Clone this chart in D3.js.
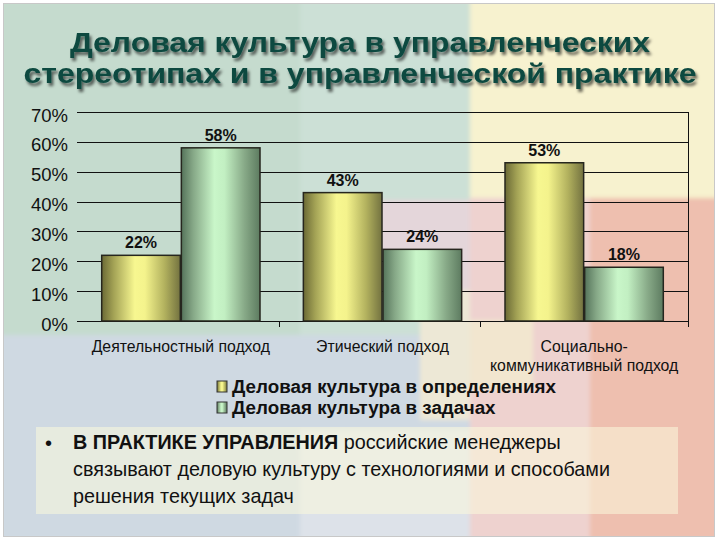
<!DOCTYPE html>
<html>
<head>
<meta charset="utf-8">
<script src="https://cdn.jsdelivr.net/npm/d3@7"></script>
<style>
  html, body { margin: 0; padding: 0; background: #fff; }
  svg { display: block; font-family: "Liberation Sans", Arial, sans-serif; }
</style>
</head>
<body>
<div id="chart"></div>
<script>
// data
const categories = ['Деятельностный подход', 'Этический подход', 'Социально-\nкоммуникативный подход'];
const seriesNames = ['Деловая культура в определениях', 'Деловая культура в задачах'];
const inDefinitions = [0.22, 0.43, 0.53];
const inTasks = [0.58, 0.24, 0.18];
const yTicks = [0, 0.1, 0.2, 0.3, 0.4, 0.5, 0.6, 0.7];
const titleLines = ['Деловая культура в управленческих', 'стереотипах и в управленческой практике'];
const bulletBold = 'В ПРАКТИКЕ УПРАВЛЕНИЯ';
const bulletLines = [' российские менеджеры', 'связывают деловую культуру с технологиями и способами', 'решения текущих задач'];

const W = 720, H = 540;
const margin = { top: 112, right: 32, bottom: 219, left: 77 };
const width = W - margin.left - margin.right;
const height = H - margin.top - margin.bottom;

const svg = d3.select('#chart').append('svg')
    .attr('width', W)
    .attr('height', H);

const defs = svg.append('defs');

// cylinder-like shading for the bars
function barGradient(id, stops) {
    const g = defs.append('linearGradient').attr('id', id)
        .attr('x1', 0).attr('x2', 1).attr('y1', 0).attr('y2', 0);
    stops.forEach(s => g.append('stop').attr('offset', s[0]).attr('stop-color', s[1]));
}
barGradient('gYellow', [[0, '#6a6935'], [0.15, '#a3a255'], [0.42, '#f7f790'], [0.55, '#f4f38c'], [0.8, '#b2b15e'], [1, '#737240']]);
barGradient('gGreen', [[0, '#55735a'], [0.15, '#86a887'], [0.42, '#c9f6c9'], [0.55, '#c2efc2'], [0.8, '#88aa88'], [1, '#5d7b60']]);

const blur = defs.append('filter').attr('id', 'soft')
    .attr('x', -0.1).attr('y', -0.1).attr('width', 1.2).attr('height', 1.2);
blur.append('feGaussianBlur').attr('stdDeviation', 2);

const shadow = defs.append('filter').attr('id', 'shadow')
    .attr('x', -0.05).attr('y', -0.2).attr('width', 1.1).attr('height', 1.5);
shadow.append('feDropShadow').attr('dx', 2).attr('dy', 3)
    .attr('stdDeviation', 1.6).attr('flood-color', '#000').attr('flood-opacity', 0.6);

const clip = defs.append('clipPath').attr('id', 'slide');
clip.append('rect').attr('x', 3).attr('y', 3).attr('width', 712).attr('height', 534);

// slide background patchwork
const bg = svg.append('g').attr('clip-path', 'url(#slide)');
const bgInner = bg.append('g').attr('filter', 'url(#soft)');
const patches = [
    [0, 0, 720, 540, '#cfd9e2'],
    [0, 0, 470, 335, '#c5dbce'],
    [300, 0, 170, 335, '#cce0d6'],
    [355, 200, 115, 90, '#e4d6da'],
    [420, 290, 50, 130, '#ede8d6'],
    [300, 430, 170, 110, '#dde2e9'],
    [470, 0, 250, 198, '#f7f2cf'],
    [470, 198, 250, 342, '#eed2cf'],
    [470, 320, 63, 70, '#f2e6cf'],
    [590, 198, 130, 342, '#eebfaf']
];
bgInner.selectAll('rect').data(patches).join('rect')
    .attr('x', d => d[0]).attr('y', d => d[1])
    .attr('width', d => d[2]).attr('height', d => d[3])
    .attr('fill', d => d[4]);

svg.append('rect')
    .attr('x', 3.5).attr('y', 3.5).attr('width', 711).attr('height', 533)
    .attr('fill', 'none').attr('stroke', '#c8c8c8');

// title (glyphs stretched to the slide's wider face)
const titleWidths = [580, 673];
svg.append('g').attr('filter', 'url(#shadow)')
    .selectAll('text').data(titleLines).join('text')
    .attr('x', (d, i) => W / 2 - titleWidths[i] / 2)
    .attr('y', (d, i) => 52 + i * 30.5)
    .attr('textLength', (d, i) => titleWidths[i])
    .attr('lengthAdjust', 'spacingAndGlyphs')
    .style('font-size', '27px')
    .style('font-weight', 'bold')
    .attr('fill', '#0c4a40')
    .text(d => d);

// scales
const x0 = d3.scaleBand()
    .domain(categories)
    .range([0, width])
    .paddingInner(0.21)
    .paddingOuter(0.12);

const x1 = d3.scaleBand()
    .domain(seriesNames)
    .range([0, x0.bandwidth()]);

const y = d3.scaleLinear()
    .domain([0, 0.7])
    .range([height, 0]);

const chart = svg.append('g')
    .attr('transform', `translate(${margin.left},${margin.top})`);

// gridlines
chart.append('g')
    .selectAll('line').data(yTicks).join('line')
    .attr('x1', 0).attr('x2', width)
    .attr('y1', d => Math.round(y(d)) + 0.5).attr('y2', d => Math.round(y(d)) + 0.5)
    .attr('stroke', '#111').attr('stroke-width', 1);

// right frame edge
chart.append('line')
    .attr('x1', width + 0.5).attr('x2', width + 0.5)
    .attr('y1', y(0.7)).attr('y2', height + 6)
    .attr('stroke', '#111');

// y labels
chart.append('g')
    .selectAll('text').data(yTicks).join('text')
    .attr('x', -9)
    .attr('y', d => y(d) + 9.5)
    .attr('text-anchor', 'end')
    .style('font-size', '18.5px')
    .attr('fill', '#111')
    .text(d => d3.format('.0%')(d));

// category ticks between groups
const step = x0.step();
chart.append('g')
    .selectAll('line').data(d3.range(1, categories.length)).join('line')
    .attr('x1', d => Math.round(d * step) + 0.5).attr('x2', d => Math.round(d * step) + 0.5)
    .attr('y1', height).attr('y2', height + 6)
    .attr('stroke', '#111');

// bars
const rows = categories.map((c, i) => ({ cat: c, values: [inDefinitions[i], inTasks[i]] }));
const fills = ['url(#gYellow)', 'url(#gGreen)'];

const groups = chart.selectAll('.group')
    .data(rows)
    .join('g')
    .attr('class', 'group')
    .attr('transform', d => `translate(${x0(d.cat)},0)`);

groups.selectAll('rect')
    .data(d => d.values.map((v, i) => ({ series: seriesNames[i], v: v, i: i })))
    .join('rect')
    .attr('x', d => x1(d.series) + 0.5)
    .attr('y', d => y(d.v))
    .attr('width', x1.bandwidth() - 1)
    .attr('height', d => height - y(d.v))
    .attr('fill', d => fills[d.i])
    .attr('stroke', '#26261e')
    .attr('stroke-width', 1.5);

groups.selectAll('.val')
    .data(d => d.values.map((v, i) => ({ series: seriesNames[i], v: v })))
    .join('text')
    .attr('class', 'val')
    .attr('x', d => x1(d.series) + x1.bandwidth() / 2)
    .attr('y', d => y(d.v) - 7)
    .attr('text-anchor', 'middle')
    .style('font-size', '16px')
    .style('font-weight', 'bold')
    .attr('fill', '#111')
    .text(d => d3.format('.0%')(d.v));

// category labels
chart.append('g')
    .selectAll('text').data(categories).join('text')
    .attr('x', d => x0(d) + x0.bandwidth() / 2)
    .attr('y', height + 31)
    .attr('text-anchor', 'middle')
    .style('font-size', '15.8px')
    .attr('fill', '#111')
    .selectAll('tspan').data(d => d.split('\n')).join('tspan')
    .attr('x', function () { return d3.select(this.parentNode).attr('x'); })
    .attr('dy', (d, i) => i === 0 ? 0 : 19)
    .text(d => d);

// legend
const legend = svg.append('g').attr('transform', 'translate(217,381)');
const legendItems = legend.selectAll('g').data(seriesNames).join('g')
    .attr('transform', (d, i) => `translate(0,${i * 21})`);
legendItems.append('rect')
    .attr('width', 10).attr('height', 11)
    .attr('fill', (d, i) => fills[i])
    .attr('stroke', '#333');
legendItems.append('text')
    .attr('x', 15).attr('y', 12)
    .style('font-size', '18.8px')
    .style('font-weight', 'bold')
    .attr('fill', '#111')
    .text(d => d);

// bullet box
svg.append('rect')
    .attr('x', 36).attr('y', 427).attr('width', 642).attr('height', 87)
    .attr('fill', '#fbfadc').attr('opacity', 0.55);

svg.append('text')
    .attr('x', 45).attr('y', 450)
    .style('font-size', '20px')
    .attr('fill', '#111')
    .text('•');

const para = svg.append('text')
    .style('font-size', '19.8px')
    .attr('fill', '#111');
para.append('tspan').attr('x', 73).attr('y', 449)
    .style('font-weight', 'bold').text(bulletBold);
para.append('tspan').text(bulletLines[0]);
bulletLines.slice(1).forEach((t, i) => {
    para.append('tspan').attr('x', 73).attr('y', 476 + i * 27).text(t);
});
</script>
</body>
</html>
